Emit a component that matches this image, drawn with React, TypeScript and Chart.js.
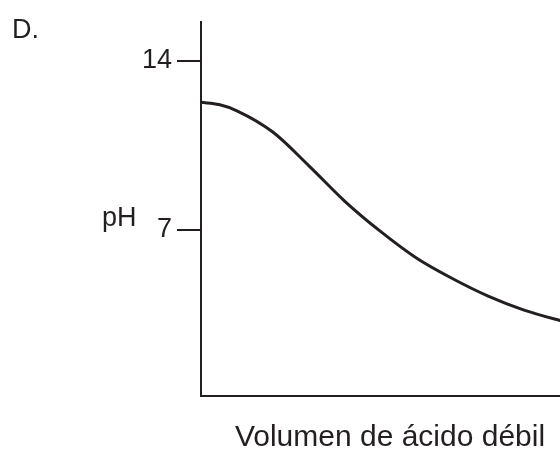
import React, { useEffect, useRef } from "react";
import { Chart, registerables } from "chart.js";

Chart.register(...registerables);

// Volume of weak acid (relative units) vs pH
const volumes = [0, 5, 10, 20, 30, 40, 50, 60, 70, 80, 90, 100, 105.3];
const phValues = [12.27, 12.18, 11.92, 11.04, 9.65, 8.18, 6.92, 5.82, 4.97, 4.24, 3.66, 3.23, 3.03];
const yTickValues = [7, 14];
const xTitle = "Volumen de ácido débil";
const yLabel = "pH";
const panelLabel = "D.";

const INK = "#231f20";
const FONT = "'Liberation Sans', Arial, Helvetica, sans-serif";

export default function App() {
  const canvasRef = useRef<HTMLCanvasElement | null>(null);

  useEffect(() => {
    const canvas = canvasRef.current;
    if (!canvas) return;
    const chart = new Chart(canvas, {
      type: "line",
      data: {
        datasets: [
          {
            data: volumes.map((v, i) => ({ x: v, y: phValues[i] })),
            borderColor: INK,
            borderWidth: 3,
            pointRadius: 0,
            cubicInterpolationMode: "monotone",
            fill: false,
          },
        ],
      },
      options: {
        responsive: false,
        animation: false,
        events: [],
        layout: { padding: { top: 22, left: 0, right: 0, bottom: 0 } },
        plugins: { legend: { display: false }, tooltip: { enabled: false } },
        scales: {
          x: {
            type: "linear",
            min: 0,
            max: 105.3,
            grid: { display: false, drawTicks: false },
            border: { display: true, color: INK, width: 2 },
            ticks: { display: false },
            title: {
              display: true,
              text: xTitle,
              color: INK,
              font: { family: FONT, size: 30, lineHeight: 0.75 },
              padding: { top: 0, bottom: 0 },
            },
            afterFit: (scale: any) => {
              scale.height = 53;
            },
          },
          y: {
            type: "linear",
            min: 0.1,
            max: 15.6,
            afterBuildTicks: (scale: any) => {
              scale.ticks = yTickValues.map((v) => ({ value: v }));
            },
            grid: {
              display: true,
              drawOnChartArea: false,
              drawTicks: true,
              tickLength: 24,
              tickWidth: 2,
              tickColor: INK,
              color: INK,
              lineWidth: 2,
            },
            border: { display: true, color: INK, width: 2 },
            ticks: {
              color: INK,
              padding: 5,
              font: { family: FONT, size: 27 },
            },
            afterFit: (scale: any) => {
              scale.width = 201;
            },
          },
        },
      },
    });
    return () => chart.destroy();
  }, []);

  const textStyle: React.CSSProperties = {
    position: "absolute",
    fontFamily: FONT,
    fontSize: 27,
    lineHeight: 1,
    color: INK,
    whiteSpace: "nowrap",
  };

  return (
    <div
      style={{
        position: "fixed",
        left: 0,
        top: 0,
        width: 560,
        height: 449,
        background: "#ffffff",
        overflow: "hidden",
      }}
    >
      <canvas ref={canvasRef} width={579} height={449} style={{ display: "block" }} />
      <div style={{ ...textStyle, left: 12, top: 16 }}>{panelLabel}</div>
      <div style={{ ...textStyle, left: 102, top: 204 }}>{yLabel}</div>
    </div>
  );
}
